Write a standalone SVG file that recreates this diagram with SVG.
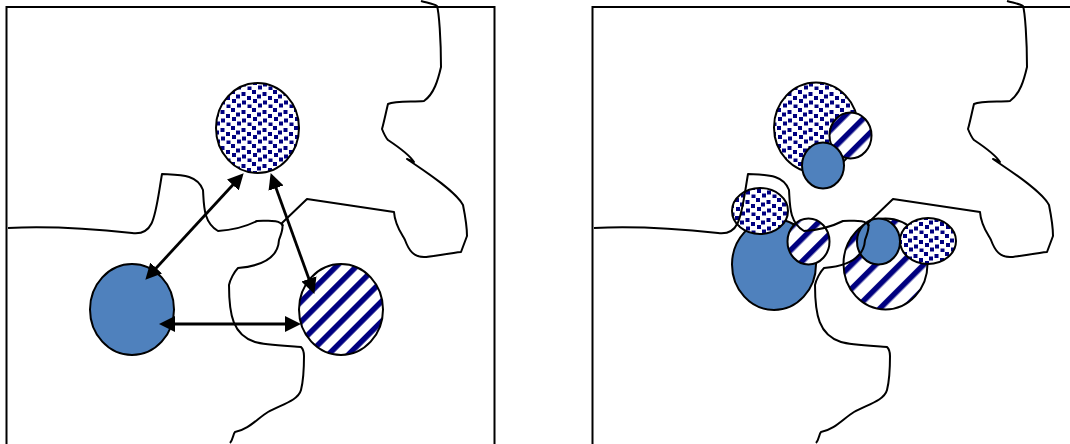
<svg xmlns="http://www.w3.org/2000/svg" xmlns:xlink="http://www.w3.org/1999/xlink" width="1070" height="444" viewBox="0 0 1070 444">
<style>
.frame{fill:none;stroke:#000;stroke-width:2}
.coast{fill:none;stroke:#000;stroke-width:2;stroke-linejoin:round}
.n{stroke:#000;stroke-width:2}
.blue{fill:#4f81bd}
.dots{fill:url(#dots)}
.arrow{stroke:#000;stroke-width:2.8;fill:none;marker-start:url(#head);marker-end:url(#head)}
</style>
<defs>
<pattern id="dots" width="21" height="18" patternUnits="userSpaceOnUse">
<rect width="21" height="18" fill="#fff"/>
<g fill="#000080">
<rect x="0" y="0" width="4" height="4"/><rect x="10.500" y="2" width="4" height="4"/>
<rect x="5" y="4.500" width="4" height="4"/><rect x="16" y="6" width="4" height="4"/>
<rect x="1" y="9" width="4" height="4"/><rect x="11" y="10.500" width="4" height="4"/>
<rect x="6" y="13.500" width="4" height="4"/><rect x="16.500" y="14.500" width="4" height="4"/>
</g>
</pattern>
<pattern id="stripesA" width="14.200" height="14.200" patternUnits="userSpaceOnUse" patternTransform="translate(333 326) rotate(-45)">
<rect width="14.200" height="14.200" fill="#fff"/><rect width="14.200" height="5.500" fill="#000080"/>
</pattern>
<pattern id="stripesB" width="17" height="17" patternUnits="userSpaceOnUse" patternTransform="translate(880 304.500) rotate(-45)">
<rect width="17" height="17" fill="#fff"/><rect width="17" height="5.500" fill="#000080"/>
</pattern>
<pattern id="stripesC" width="15" height="15" patternUnits="userSpaceOnUse" patternTransform="translate(833 145) rotate(-45)">
<rect width="15" height="15" fill="#fff"/><rect width="15" height="5.500" fill="#000080"/>
</pattern>
<pattern id="stripesD" width="16" height="16" patternUnits="userSpaceOnUse" patternTransform="translate(792 245) rotate(-45)">
<rect width="16" height="16" fill="#fff"/><rect width="16" height="5.500" fill="#000080"/>
</pattern>
<marker id="head" markerUnits="userSpaceOnUse" markerWidth="18" markerHeight="17" refX="5" refY="8" orient="auto-start-reverse">
<path d="M0 0L16 8L0 16z" fill="#000"/>
</marker>
<path id="coastline" d="M421 1C428 3 434 4 437 6C439 12 441 40 441 67C438 80 434 94 424 101C412 102 395 101 388 104C386 112 384 122 382 129C384 134 386 138 388 140C397 146 409 154 414 162L407 159C420 168 455 190 463 205C465 215 467 230 467 236L461 252C450 253 430 257 424 257C414 257 409 251 405 240C402 234 395 226 394 212L307 199L282 223C284 228 281 234 279 240C278 258 262 266 238 268C234 272 230 280 229 285C229 315 233 335 255 342C265 345 290 346 301 347C303 349 304 352 304 356C304 368 303 382 301 390C298 401 280 405 268 412C258 418 248 430 235 432C233 434 233 440 230 443"/>
<path id="coastline2" d="M8 228C50 226 95 229 132 233C155 236 155 215 162 174C180 175 197 174 203 190C204 205 203 222 218 231C235 230 245 227 257 221C268 221 280 219 283 226"/>
</defs>
<g id="frames">
<rect class="frame" x="6.500" y="7" width="488" height="445"/>
<rect class="frame" x="592.500" y="7" width="488" height="445"/>
</g>
<g id="left-dots"><ellipse class="n dots" cx="257.500" cy="128" rx="41.500" ry="45"/></g>
<g id="left-blue"><ellipse class="n blue" cx="132" cy="309.500" rx="42" ry="45.500"/></g>
<g id="left-stripes"><ellipse class="n" fill="url(#stripesA)" cx="341" cy="309.500" rx="42" ry="45.500"/></g>
<g id="right-top-cluster">
<ellipse class="n dots" cx="816" cy="127.500" rx="42" ry="45"/>
<ellipse class="n" fill="url(#stripesC)" cx="850.500" cy="135.500" rx="21" ry="23"/>
<ellipse class="n blue" cx="823" cy="165.500" rx="21" ry="23"/>
</g>
<g id="right-left-cluster">
<ellipse class="n blue" cx="774" cy="264.500" rx="42" ry="45.500"/>
<ellipse class="n dots" cx="760" cy="211" rx="28" ry="23"/>
<ellipse class="n" fill="url(#stripesD)" cx="808.500" cy="241.500" rx="21" ry="23"/>
</g>
<g id="right-right-cluster">
<ellipse class="n" fill="url(#stripesB)" cx="885.500" cy="264" rx="42" ry="45.500"/>
<ellipse class="n blue" cx="878.500" cy="241.500" rx="21.500" ry="23"/>
<ellipse class="n dots" cx="928" cy="241" rx="28" ry="23"/>
</g>
<g id="coastlines">
<use xlink:href="#coastline" class="coast"/>
<use xlink:href="#coastline2" class="coast"/>
<use xlink:href="#coastline" class="coast" transform="translate(586 0)"/>
<use xlink:href="#coastline2" class="coast" transform="translate(586 0)"/>
</g>
<g id="connectors">
<line class="arrow" x1="236.200" y1="181.300" x2="152.800" y2="271.700"/>
<line class="arrow" x1="274.400" y1="183.400" x2="310.600" y2="283.600"/>
<line class="arrow" x1="170" y1="324" x2="290" y2="324"/>
</g>
</svg>
